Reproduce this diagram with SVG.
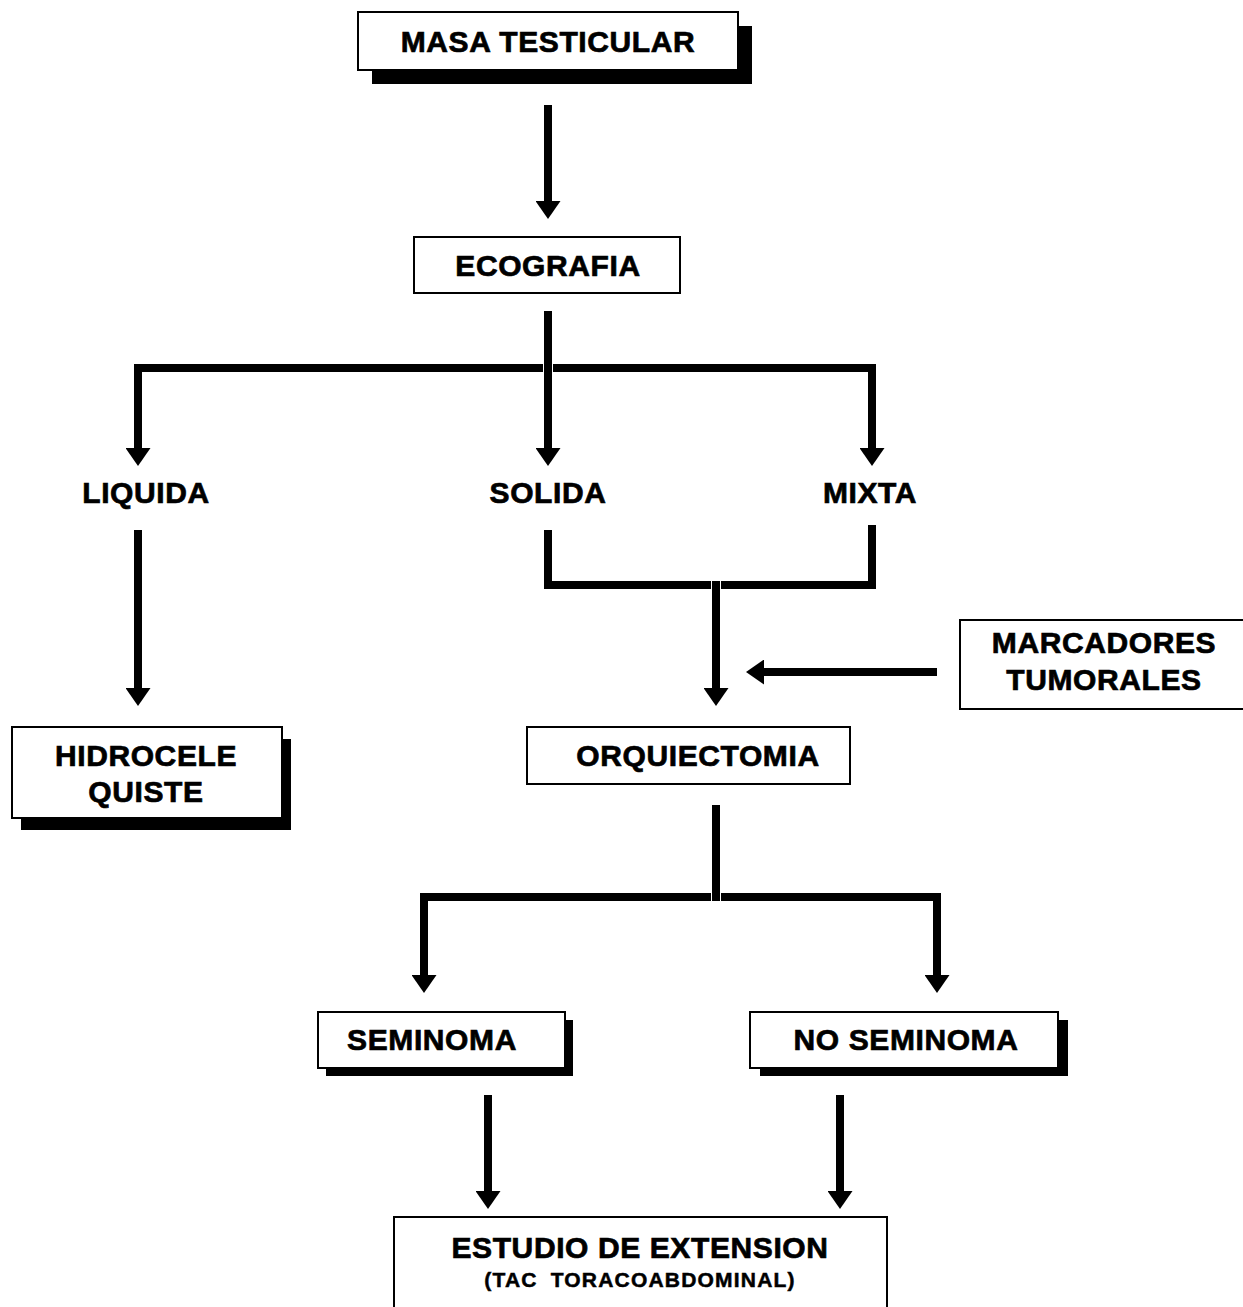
<svg xmlns="http://www.w3.org/2000/svg" width="1243" height="1307" viewBox="0 0 1243 1307">
  <style>
    .box { fill: #fff; stroke: #000; stroke-width: 2; }
    .shadow { fill: #000; }
    .lbl { font-family: "Liberation Sans", Arial, Helvetica, sans-serif; font-weight: bold; font-size: 30px; letter-spacing: 0.6px; fill: #000; stroke: #000; stroke-width: 0.7; text-anchor: middle; }
    .small { font-size: 21px; letter-spacing: 1.2px; word-spacing: 6px; stroke-width: 0.5; }
    .wire { fill: none; stroke: #000; stroke-width: 8; stroke-linecap: butt; stroke-linejoin: miter; }
  </style>
  <defs>
    <marker id="head" markerUnits="userSpaceOnUse" markerWidth="18" markerHeight="25" viewBox="0 0 18 25" refX="0" refY="12.5" orient="auto">
      <path d="M0,0 L18,12.5 L0,25 Z" fill="#000"/>
    </marker>
  </defs>
  <rect width="1243" height="1307" fill="#fff"/>

  <!-- connectors -->
  <g id="connectors">
    <!-- masa -> ecografia -->
    <path class="wire" d="M548,105 V201" marker-end="url(#head)"/>
    <!-- ecografia fan-out -->
    <path class="wire" d="M548,311 V448" marker-end="url(#head)"/>
    <path class="wire" d="M543,368 H138 V448" marker-end="url(#head)"/>
    <path class="wire" d="M553,368 H872 V448" marker-end="url(#head)"/>
    <!-- liquida -> hidrocele -->
    <path class="wire" d="M138,530 V688" marker-end="url(#head)"/>
    <!-- solida + mixta join -->
    <path class="wire" d="M548,530 V585 H711"/>
    <path class="wire" d="M721,585 H872 V525"/>
    <path class="wire" d="M716,581 V688" marker-end="url(#head)"/>
    <!-- marcadores -> join -->
    <path class="wire" d="M937,672 H764" marker-end="url(#head)"/>
    <!-- orquiectomia fan-out -->
    <path class="wire" d="M716,805 V901"/>
    <path class="wire" d="M711,897 H424 V975" marker-end="url(#head)"/>
    <path class="wire" d="M721,897 H937 V975" marker-end="url(#head)"/>
    <!-- seminoma / no seminoma -> estudio -->
    <path class="wire" d="M488,1095 V1191" marker-end="url(#head)"/>
    <path class="wire" d="M840,1095 V1191" marker-end="url(#head)"/>
  </g>

  <g id="masa">
    <rect class="shadow" x="372" y="26" width="380" height="58"/>
    <rect class="box" x="358" y="12" width="380" height="58"/>
    <text class="lbl" x="548" y="52">MASA TESTICULAR</text>
  </g>

  <g id="ecografia">
    <rect class="box" x="414" y="237" width="266" height="56"/>
    <text class="lbl" x="548" y="276">ECOGRAFIA</text>
  </g>

  <g id="liquida">
    <text class="lbl" x="146" y="503">LIQUIDA</text>
  </g>
  <g id="solida">
    <text class="lbl" x="548" y="503">SOLIDA</text>
  </g>
  <g id="mixta">
    <text class="lbl" x="870" y="503">MIXTA</text>
  </g>

  <g id="marcadores">
    <rect class="box" x="960" y="620" width="300" height="89"/>
    <text class="lbl" x="1104" y="653">MARCADORES</text>
    <text class="lbl" x="1104" y="690">TUMORALES</text>
  </g>

  <g id="hidrocele">
    <rect class="shadow" x="21" y="739" width="270" height="91"/>
    <rect class="box" x="12" y="727" width="270" height="91"/>
    <text class="lbl" x="146" y="766">HIDROCELE</text>
    <text class="lbl" x="146" y="802">QUISTE</text>
  </g>

  <g id="orquiectomia">
    <rect class="box" x="527" y="727" width="323" height="57"/>
    <text class="lbl" x="698" y="766">ORQUIECTOMIA</text>
  </g>

  <g id="seminoma">
    <rect class="shadow" x="326" y="1020" width="247" height="56"/>
    <rect class="box" x="318" y="1012" width="247" height="56"/>
    <text class="lbl" x="432" y="1050">SEMINOMA</text>
  </g>

  <g id="no-seminoma">
    <rect class="shadow" x="760" y="1020" width="308" height="56"/>
    <rect class="box" x="750" y="1012" width="308" height="56"/>
    <text class="lbl" x="906" y="1050">NO SEMINOMA</text>
  </g>

  <g id="estudio">
    <rect class="box" x="394" y="1217" width="493" height="110"/>
    <text class="lbl" x="640" y="1258">ESTUDIO DE EXTENSION</text>
    <text class="lbl small" x="640" y="1287">(TAC TORACOABDOMINAL)</text>
  </g>
</svg>
